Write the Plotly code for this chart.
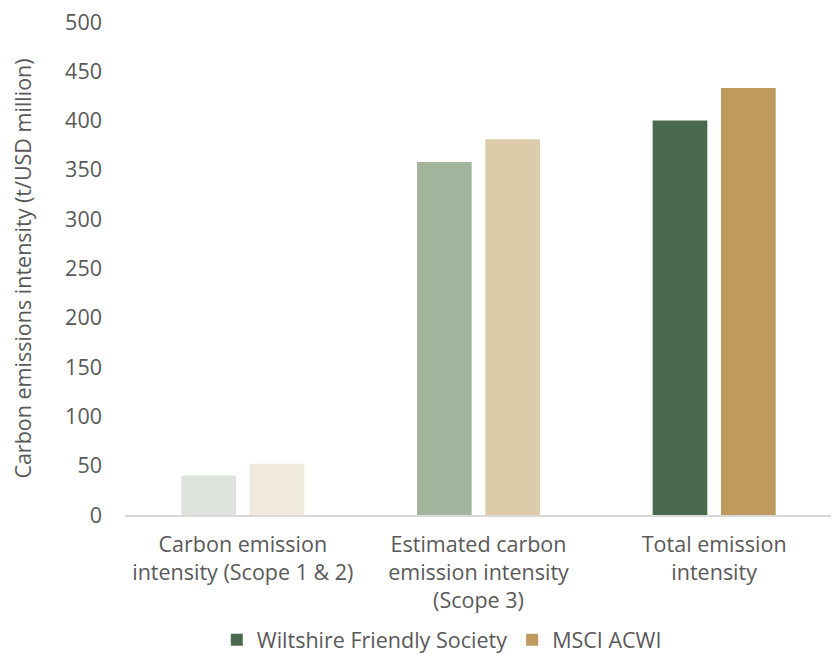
import plotly.graph_objects as go

categories = ["Carbon emission<br>intensity (Scope 1 & 2)",
              "Estimated carbon<br>emission intensity<br>(Scope 3)",
              "Total emission<br>intensity"]
series_names = ["Wiltshire Friendly Society", "MSCI ACWI"]
wiltshire = [40, 358, 400]
msci = [52, 381, 433]
wiltshire_colors = ["#dfe3dd", "#a3b59d", "#4a6a4f"]
msci_colors = ["#f0e9dd", "#dccca9", "#bf9a5f"]
y_ticks = [0, 50, 100, 150, 200, 250, 300, 350, 400, 450, 500]

FONT = "Open Sans"
GREY = "#595959"
FS = 21.5

fig = go.Figure()
fig.add_trace(go.Bar(x=categories, y=wiltshire, marker=dict(color=wiltshire_colors, line_width=0),
                     offsetgroup="w", showlegend=False, hoverinfo="y"))
fig.add_trace(go.Bar(x=categories, y=msci, marker=dict(color=msci_colors, line_width=0),
                     offsetgroup="m", showlegend=False, hoverinfo="y"))
# legend-only traces
fig.add_trace(go.Bar(x=[categories[0]], y=[None], name=series_names[0],
                     marker=dict(color=wiltshire_colors[2], line_width=0), offsetgroup="w"))
fig.add_trace(go.Bar(x=[categories[0]], y=[None], name=series_names[1],
                     marker=dict(color=msci_colors[2], line_width=0), offsetgroup="m"))

# page has an 8px body margin, so the figure is sized to fit inside the window
fig.update_layout(
    width=831, height=646,
    margin=dict(l=117, r=7, t=14, b=139, autoexpand=False),
    paper_bgcolor="white", plot_bgcolor="white",
    barmode="group", bargap=0.42, bargroupgap=0.2,
    font=dict(family=FONT, color=GREY, size=FS),
    legend=dict(orientation="h", xref="container", yref="container",
                x=0.522, xanchor="center", y=0.022, yanchor="middle",
                font=dict(size=FS, color=GREY), traceorder="normal"),
    xaxis=dict(showline=True, linecolor="#d9d9d9", linewidth=2, showgrid=False, automargin=False,
               tickfont=dict(size=FS, color=GREY), ticks="", ticklabelstandoff=9, fixedrange=True),
    yaxis=dict(range=[0, 500], tickvals=y_ticks, showgrid=False, showline=False, zeroline=False,
               automargin=False, ticklabeloverflow="allow",
               tickfont=dict(size=FS, color=GREY), ticklabelstandoff=22,
               title=dict(text="Carbon emissions intensity (t/USD million)",
                          font=dict(size=FS, color=GREY), standoff=31)),
)

fig.write_html("out.html")
